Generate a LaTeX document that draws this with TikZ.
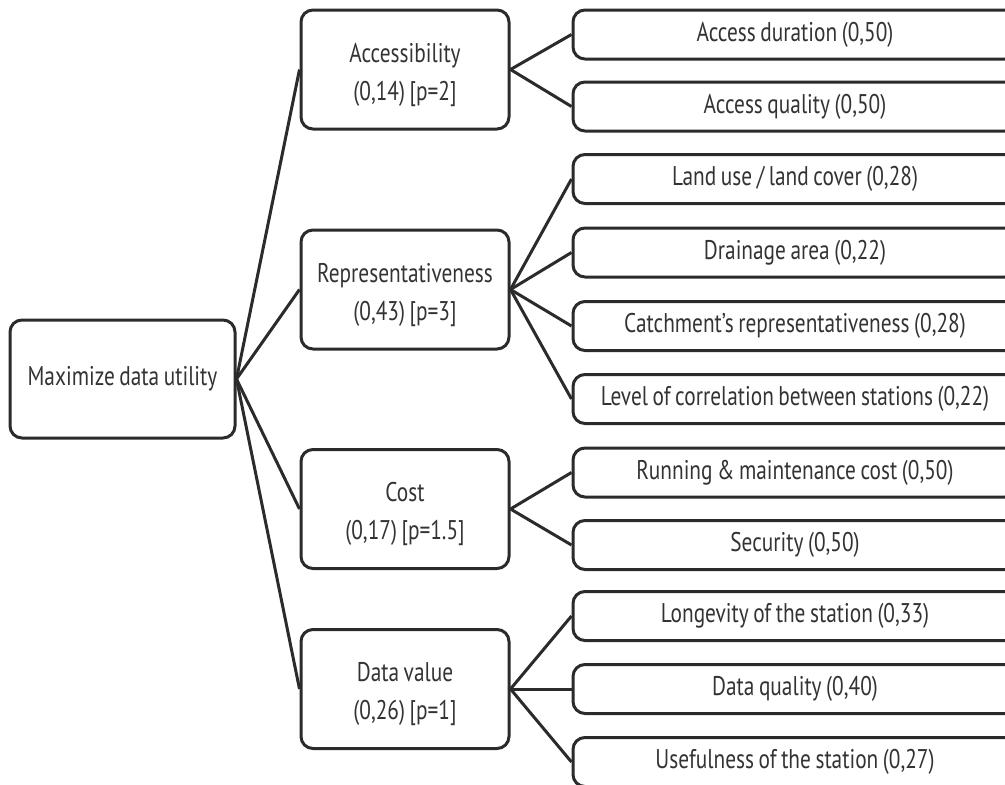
\documentclass[tikz,border=0pt]{standalone}
\usepackage{fontspec}
\setmainfont[FakeStretch=0.79,WordSpace=0.8]{PT Sans}
\definecolor{linec}{HTML}{2B2B2B}
\definecolor{textc}{HTML}{333333}
\newcommand{\lowerline}{\rule{0pt}{30pt}}
\begin{document}
\begin{tikzpicture}[x=1pt,y=-1pt,
  box/.style={draw=linec,line width=3pt,rounded corners=12pt,fill=white,
    text=textc,align=center,inner sep=0pt,
    font=\fontsize{27}{38}\selectfont},
  midbox/.style={box,minimum width=208pt,minimum height=119pt},
  leafbox/.style={box,minimum width=444pt,minimum height=49pt},
  conn/.style={draw=linec,line width=3pt}]
\useasboundingbox (0,0) rectangle (1005,785);
\clip (0,0) rectangle (1005,785);
\node[box,minimum width=225pt,minimum height=118pt] (root) at (122.5,379) {Maximize data utility};
\node[midbox] (acc) at (405,69.5) {\lowerline Accessibility\\(0,14) [p=2]};
\node[midbox] (rep) at (405,289.5) {\lowerline Representativeness\\(0,43) [p=3]};
\node[midbox] (cost) at (405,509) {\lowerline Cost\\(0,17) [p=1.5]};
\node[midbox] (dv) at (405,689) {\lowerline Data value\\(0,26) [p=1]};
\node[leafbox] (ad) at (795,34.5) {Access duration (0,50)};
\node[leafbox] (aq) at (795,106.5) {Access quality (0,50)};
\node[leafbox] (lu) at (795,179) {Land use / land cover (0,28)};
\node[leafbox] (da) at (795,252.5) {Drainage area (0,22)};
\node[leafbox] (cr) at (795,326) {Catchment’s representativeness (0,28)};
\node[leafbox] (lc) at (795,399) {Level of correlation between stations (0,22)};
\node[leafbox] (rm) at (795,472.5) {Running \& maintenance cost (0,50)};
\node[leafbox] (se) at (795,545) {Security (0,50)};
\node[leafbox] (lo) at (795,616) {Longevity of the station (0,33)};
\node[leafbox] (dq) at (795,689) {Data quality (0,40)};
\node[leafbox] (us) at (795,762) {Usefulness of the station (0,27)};
\foreach \m in {acc,rep,cost,dv} \draw[conn] (root.east) -- (\m.west);
\foreach \l in {ad,aq} \draw[conn] (acc.east) -- (\l.west);
\foreach \l in {lu,da,cr,lc} \draw[conn] (rep.east) -- (\l.west);
\foreach \l in {rm,se} \draw[conn] (cost.east) -- (\l.west);
\foreach \l in {lo,dq,us} \draw[conn] (dv.east) -- (\l.west);
\end{tikzpicture}
\end{document}
